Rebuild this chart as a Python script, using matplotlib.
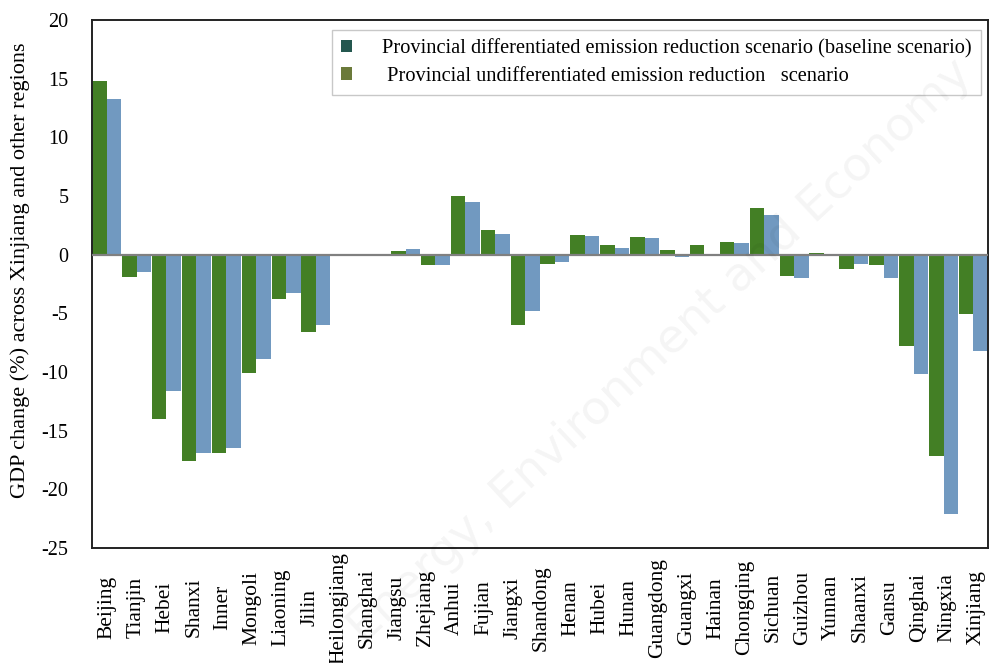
import numpy as np
import matplotlib
matplotlib.use("Agg")
import matplotlib.pyplot as plt
from matplotlib.patches import Patch

plt.rcParams["font.family"] = ["Liberation Serif", "DejaVu Serif"]
plt.rcParams["axes.unicode_minus"] = False

# GDP change (%) per region, 30 region groups in chart order
differentiated = [14.8, -1.9, -14.0, -17.6, -16.9, -10.1, -3.75, -6.6, 0.0, -0.1,
                  0.3, -0.9, 5.0, 2.1, -6.0, -0.8, 1.7, 0.85, 1.5, 0.4,
                  0.85, 1.1, 4.0, -1.8, 0.1, -1.25, -0.9, -7.8, -17.2, -5.1]
undifferentiated = [13.3, -1.45, -11.6, -16.9, -16.5, -8.9, -3.3, -6.0, 0.0, 0.0,
                    0.5, -0.9, 4.45, 1.75, -4.8, -0.65, 1.6, 0.6, 1.4, -0.2,
                    -0.05, 1.0, 3.35, -2.0, -0.1, -0.8, -2.0, -10.2, -22.1, -8.2]
tick_labels = ["Beijing", "Tianjin", "Hebei", "Shanxi", "Inner", "Mongoli", "Liaoning",
               "Jilin", "Heilongjiang", "Shanghai", "Jiangsu", "Zhejiang", "Anhui",
               "Fujian", "Jiangxi", "Shandong", "Henan", "Hubei", "Hunan", "Guangdong",
               "Guangxi", "Hainan", "Chongqing", "Sichuan", "Guizhou", "Yunnan",
               "Shaanxi", "Gansu", "Qinghai", "Ningxia", "Xinjiang"]
legend_labels = ["Provincial differentiated emission reduction scenario (baseline scenario)",
                 " Provincial undifferentiated emission reduction   scenario"]

fig = plt.figure(figsize=(9.93, 6.63), dpi=100)
ax = fig.add_axes([0.0927, 0.1735, 0.9023, 0.7965])

x = np.arange(len(differentiated))
w = 0.485
ax.bar(x - w / 2, differentiated, width=w, color="#437f25", zorder=2)
ax.bar(x + w / 2, undifferentiated, width=w, color="#7199c0", zorder=2)
ax.axhline(0, color="#808080", lw=1.6, zorder=3)

ax.set_xlim(-0.49, len(x) - 0.51)
ax.set_ylim(-25, 20)
ax.set_yticks(np.arange(-25, 21, 5))
ax.tick_params(axis="y", length=0, labelsize=14.5, pad=17)

ax.set_xticks(np.linspace(0, 29.1, len(tick_labels)))
ax.set_xticklabels(tick_labels, rotation=90, va="center", fontsize=15.5)
ax.tick_params(axis="x", length=0, pad=43)

for s in ax.spines.values():
    s.set_linewidth(1.4)
    s.set_color("#222222")

fig.text(20 / 993, 0.593, "GDP change (%) across Xinjiang and other regions",
         rotation=90, ha="center", va="center", fontsize=16)

handles = [Patch(facecolor="#24574f"), Patch(facecolor="#6b7a3a")]
leg = ax.legend(handles, legend_labels, loc="upper right", bbox_to_anchor=(0.992, 0.981),
                fontsize=14.7, frameon=True, fancybox=False, handlelength=0.55,
                handleheight=0.55, handletextpad=1.45, borderpad=0.45, labelspacing=0.4,
                borderaxespad=0)
leg.get_frame().set_edgecolor("#bbbbbb")
leg.get_frame().set_linewidth(1.0)

# faint publisher watermark
fig.text(0.665, 0.47, "Energy, Environment and Economy", rotation=43, ha="center",
         va="center", fontsize=34, color="black", alpha=0.045, family="DejaVu Sans")

plt.savefig("out.png", dpi=100)
